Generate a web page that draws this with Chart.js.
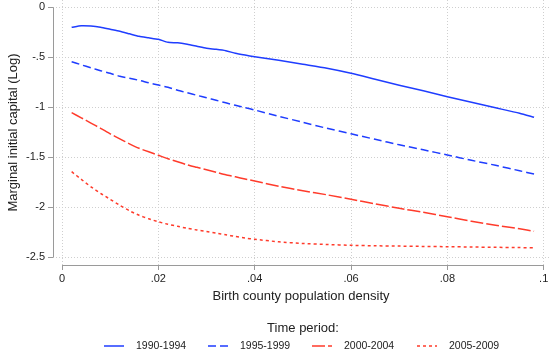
<!DOCTYPE html>
<html>
<head>
<meta charset="utf-8">
<script src="https://cdn.jsdelivr.net/npm/chart.js@4/dist/chart.umd.min.js"></script>
<style>
  html, body { margin: 0; padding: 0; background: #ffffff; }
  #wrap { width: 550px; height: 356px; }
</style>
</head>
<body>
<div id="wrap"><canvas id="c" width="550" height="356"></canvas></div>
<script>
// ---- data ----
const densities = [0.002, 0.004, 0.006, 0.008, 0.010, 0.012, 0.014, 0.016, 0.018, 0.020,
                   0.022, 0.024, 0.026, 0.028, 0.030, 0.032, 0.034, 0.036, 0.038, 0.040,
                   0.045, 0.050, 0.055, 0.060, 0.065, 0.070, 0.075, 0.080, 0.085, 0.090,
                   0.095, 0.098];
const period1990 = [-0.200, -0.185, -0.188, -0.200, -0.220, -0.240, -0.265, -0.290, -0.305, -0.320,
                    -0.350, -0.355, -0.370, -0.390, -0.410, -0.420, -0.434, -0.460, -0.478, -0.494,
                    -0.530, -0.570, -0.610, -0.660, -0.720, -0.780, -0.835, -0.894, -0.950, -1.005,
                    -1.060, -1.100];
const period1995 = [-0.544, -0.575, -0.605, -0.634, -0.660, -0.690, -0.710, -0.730, -0.755, -0.777,
                    -0.800, -0.830, -0.855, -0.880, -0.905, -0.930, -0.955, -0.980, -1.003, -1.027,
                    -1.090, -1.150, -1.210, -1.265, -1.320, -1.375, -1.425, -1.477, -1.530, -1.580,
                    -1.635, -1.667];
const period2000 = [-1.054, -1.105, -1.158, -1.210, -1.265, -1.315, -1.365, -1.410, -1.445, -1.480,
                    -1.515, -1.545, -1.575, -1.600, -1.625, -1.650, -1.675, -1.695, -1.717, -1.737,
                    -1.790, -1.835, -1.875, -1.920, -1.965, -2.010, -2.050, -2.094, -2.140, -2.180,
                    -2.215, -2.240];
const period2005 = [-1.644, -1.720, -1.795, -1.860, -1.920, -1.980, -2.035, -2.080, -2.115, -2.145,
                    -2.170, -2.190, -2.210, -2.227, -2.242, -2.258, -2.275, -2.292, -2.307, -2.320,
                    -2.345, -2.362, -2.372, -2.380, -2.385, -2.388, -2.391, -2.394, -2.397, -2.400,
                    -2.403, -2.405];
const seriesNames = ['1990-1994', '1995-1999', '2000-2004', '2005-2009'];
const xTickValues = [0, 0.02, 0.04, 0.06, 0.08, 0.1];
const xTickLabels = ['0', '.02', '.04', '.06', '.08', '.1'];
const yTickValues = [0, -0.5, -1, -1.5, -2, -2.5];
const yTickLabels = ['0', '-.5', '-1', '-1.5', '-2', '-2.5'];
const xTitle = 'Birth county population density';
const yTitle = 'Marginal initial capital (Log)';
const legendTitle = 'Time period:';

// ---- styles ----
const BLUE = '#1f3dff';
const RED = '#ff3b2b';
const FONT = '"Liberation Sans", Arial, Helvetica, sans-serif';
const styles = [
  { color: BLUE, dash: [] },
  { color: BLUE, dash: [8, 4] },
  { color: RED, dash: [13, 3] },
  { color: RED, dash: [3, 3] }
];
const allSeries = [period1990, period1995, period2000, period2005];

const datasets = allSeries.map((vals, i) => ({
  label: seriesNames[i],
  data: densities.map((d, j) => ({ x: d, y: vals[j] })),
  borderColor: styles[i].color,
  backgroundColor: styles[i].color,
  borderDash: styles[i].dash,
  borderWidth: 1.5,
  pointRadius: 0,
  fill: false,
  tension: 0.2
}));

function fixTicks(values) {
  return function (scale) { scale.ticks = values.map(v => ({ value: v })); };
}

const axisLinesPlugin = {
  id: 'axisLines',
  afterDraw(chart) {
    const ctx = chart.ctx;
    const xs = chart.scales.x, ys = chart.scales.y;
    const ca = chart.chartArea;
    ctx.save();
    ctx.strokeStyle = '#9a9a9a';
    ctx.lineWidth = 1;
    ctx.setLineDash([]);
    ctx.beginPath();
    const lx = Math.round(ca.left) + 0.5;
    ctx.moveTo(lx, ys.getPixelForValue(yTickValues[0]));
    ctx.lineTo(lx, ys.getPixelForValue(yTickValues[yTickValues.length - 1]));
    const by = Math.round(ca.bottom) + 0.5;
    ctx.moveTo(xs.getPixelForValue(xTickValues[0]), by);
    ctx.lineTo(xs.getPixelForValue(xTickValues[xTickValues.length - 1]), by);
    ctx.stroke();
    ctx.restore();
  }
};

const customLegendPlugin = {
  id: 'customLegend',
  afterDraw(chart) {
    const ctx = chart.ctx;
    ctx.save();
    ctx.fillStyle = '#222';
    ctx.textBaseline = 'middle';
    ctx.textAlign = 'center';
    ctx.font = '13px ' + FONT;
    ctx.fillText(legendTitle, 303, 328);
    const lineStarts = [104, 208, 312, 417];
    const rowY = 346;
    ctx.font = '10.5px ' + FONT;
    ctx.textAlign = 'left';
    chart.data.datasets.forEach((ds, i) => {
      const x0 = lineStarts[i];
      ctx.save();
      ctx.strokeStyle = ds.borderColor;
      ctx.lineWidth = 1.5;
      ctx.setLineDash(ds.borderDash || []);
      ctx.beginPath();
      ctx.moveTo(x0, rowY);
      ctx.lineTo(x0 + 20, rowY);
      ctx.stroke();
      ctx.restore();
      ctx.fillStyle = '#222';
      ctx.fillText(ds.label, x0 + 32, rowY);
    });
    ctx.restore();
  }
};

new Chart(document.getElementById('c'), {
  type: 'line',
  data: { datasets },
  plugins: [axisLinesPlugin, customLegendPlugin],
  options: {
    responsive: false,
    animation: false,
    devicePixelRatio: 1,
    layout: { padding: { left: 0, right: 1, top: 0, bottom: 50 } },
    plugins: { legend: { display: false }, tooltip: { enabled: false } },
    scales: {
      x: {
        type: 'linear',
        min: -0.00187,
        max: 0.1011,
        afterBuildTicks: fixTicks(xTickValues),
        afterFit(scale) { scale.height = 41; scale.paddingLeft = 0; scale.paddingRight = 0; },
        border: { display: false, dash: [1, 2] },
        grid: { color: '#cfcfcf', lineWidth: 1, drawTicks: true, tickLength: 5, tickColor: '#9a9a9a', tickWidth: 1 },
        ticks: {
          padding: 2,
          maxRotation: 0,
          autoSkip: false,
          color: '#222',
          font: { family: FONT, size: 11 },
          callback: (v) => { const k = xTickValues.findIndex(t => Math.abs(t - v) < 1e-9); return k >= 0 ? xTickLabels[k] : ''; }
        },
        title: { display: true, text: xTitle, color: '#222', font: { family: FONT, size: 13 }, padding: { top: 0, bottom: 2 } }
      },
      y: {
        type: 'linear',
        min: -2.577,
        max: 0.073,
        afterBuildTicks: fixTicks(yTickValues),
        afterFit(scale) { scale.width = 53; scale.paddingTop = 0; scale.paddingBottom = 0; },
        border: { display: false, dash: [1, 2] },
        grid: { color: '#cfcfcf', lineWidth: 1, drawTicks: true, tickLength: 5, tickColor: '#9a9a9a', tickWidth: 1 },
        ticks: {
          padding: 3,
          autoSkip: false,
          color: '#222',
          font: { family: FONT, size: 11 },
          callback: (v) => { const k = yTickValues.findIndex(t => Math.abs(t - v) < 1e-9); return k >= 0 ? yTickLabels[k] : ''; }
        },
        title: { display: true, text: yTitle, color: '#222', font: { family: FONT, size: 13 }, padding: { top: 6, bottom: 0 } }
      }
    }
  }
});
</script>
</body>
</html>
